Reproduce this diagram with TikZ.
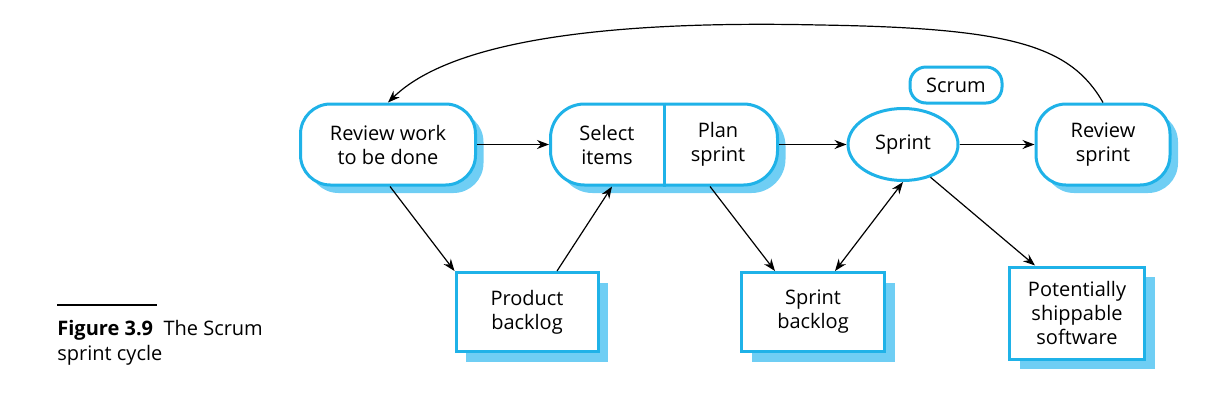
\documentclass[tikz,border=0pt]{standalone}
\usepackage{fontspec}
\setmainfont{Open Sans}
\usetikzlibrary{arrows.meta, shapes.geometric, shadows}
\definecolor{scrumBlue}{HTML}{1FB2E8}
\definecolor{scrumShade}{HTML}{6FCEF4}
\begin{document}
\begin{tikzpicture}[x=0.5pt, y=-0.5pt,
  every node/.style={font=\fontsize{10}{12}\selectfont, align=center},
  act/.style={draw=scrumBlue, fill=white, line width=1.5pt, rounded corners=15pt,
              minimum height=40.5pt, inner sep=0pt,
              drop shadow={shadow xshift=4pt, shadow yshift=-4pt, fill=scrumShade, opacity=1}},
  art/.style={draw=scrumBlue, fill=white, line width=1.5pt, inner sep=0pt,
              drop shadow={shadow xshift=5pt, shadow yshift=-5pt, fill=scrumShade, opacity=1}},
  tag/.style={draw=scrumBlue, fill=white, line width=1.5pt, rounded corners=8pt,
              minimum width=46pt, minimum height=18pt, inner sep=0pt},
  sprintnode/.style={draw=scrumBlue, fill=white, line width=1.5pt, ellipse,
                     minimum width=55pt, minimum height=36pt, inner sep=0pt},
  arr/.style={-{Stealth[length=6pt, width=4.5pt]}, line width=0.6pt, black},
  darr/.style={{Stealth[length=6pt, width=4.5pt]}-{Stealth[length=6pt, width=4.5pt]}, line width=0.6pt, black},
]
  \useasboundingbox (0,0) rectangle (1224,408);

  \node[act, minimum width=87.5pt] (review) at (388,144.5) {Review work\\to be done};
  \node[act, minimum width=113.5pt, rounded corners=17pt] (selplan) at (664,144.5) {};
  \node (select) at (607,144.5) {Select\\items};
  \node (plan) at (718,144.5) {Plan\\sprint};
  \draw[scrumBlue, line width=1.5pt] (selplan.north) -- (selplan.south);
  \node[sprintnode] (sprint) at (903,144.5) {\strut Sprint};
  \node[tag] (scrum) at (956,85) {Scrum};
  \node[act, minimum width=67pt] (revsprint) at (1103,144.5) {Review\\sprint};

  \node[art, minimum width=71pt, minimum height=39.5pt] (prodback) at (527,312) {Product\\backlog};
  \node[art, minimum width=71.5pt, minimum height=39.5pt] (sprback) at (813,312) {Sprint\\backlog};
  \node[art, minimum width=67.5pt, minimum height=46pt] (software) at (1077,313)
    {Potentially\\shippable\\software};

  \draw[arr] (review.east) -- (selplan.west);
  \draw[arr] (selplan.east) -- (sprint.west);
  \draw[arr] (sprint.east) -- (revsprint.west);
  \draw[arr] ([xshift=1pt]review.south) -- (prodback.north west);
  \draw[arr] ([xshift=15pt]prodback.north) -- ([xshift=-26pt]selplan.south);
  \draw[arr] ([xshift=23pt]selplan.south) -- ([xshift=-19pt]sprback.north);
  \draw[darr] ([xshift=11pt]sprback.north) -- (sprint.south);
  \draw[arr] (sprint.310) -- ([xshift=-21pt]software.north);
  \draw[arr] (revsprint.north) .. controls (1070,45) and (1010,28) .. (820,25)
    .. controls (600,20) and (450,42) .. (review.north);

  \draw[line width=0.6pt] (57,305) -- (157,305);
  \node[anchor=north west, align=left, inner sep=0pt,
        font=\fontsize{10}{12.5}\selectfont] (caption) at (57,320)
    {\textbf{Figure 3.9}\ \ The Scrum\\sprint cycle};
\end{tikzpicture}
\end{document}
